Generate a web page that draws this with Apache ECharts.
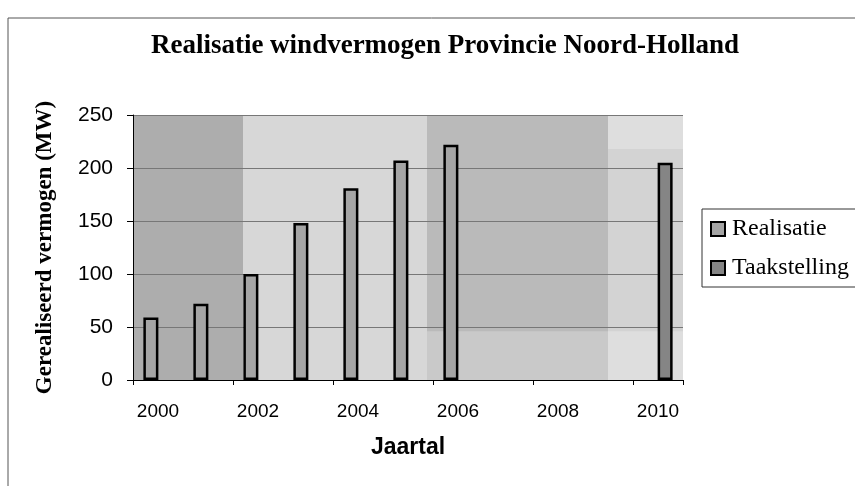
<!DOCTYPE html>
<html>
<head>
<meta charset="utf-8">
<script src="https://cdn.jsdelivr.net/npm/echarts@6/dist/echarts.min.js"></script>
<style>
    html, body { margin: 0; padding: 0; background: #fff; }
    #chart { width: 855px; height: 486px; }
</style>
</head>
<body>
<div id="chart"></div>
<script>
// jaren op de x-as
const years = ['2000', '2001', '2002', '2003', '2004', '2005', '2006', '2007', '2008', '2009', '2010'];
// gerealiseerd vermogen (MW)
const realisatie = [59, 72, 100, 148, 181, 207, 222, null, null, null, null];
// taakstelling 2010
const taakstelling = [null, null, null, null, null, null, null, null, null, null, 205];
const yTicks = [0, 50, 100, 150, 200, 250];

// achtergrondvlakken (x op een verborgen 0..11 as, y in MW)
const bands = [
    [0, 2.2, 0, 250, '#adadad'],
    [2.2, 5.88, 0, 250, '#d7d7d7'],
    [5.88, 9.5, 0, 250, '#bababa'],
    [5.88, 9.5, 0, 46, '#c9c9c9'],
    [9.5, 11, 0, 250, '#dedede'],
    [9.5, 11, 46, 218, '#d3d3d3']
];

const chart = echarts.init(document.getElementById('chart'));

const option = {
    backgroundColor: '#fff',
    animation: false,
    title: {
        text: 'Realisatie windvermogen Provincie Noord-Holland',
        left: 440,
        top: 28,
        textAlign: 'center',
        textStyle: {
            fontFamily: 'Liberation Serif',
            fontWeight: 'bold',
            fontSize: 27,
            color: '#000'
        }
    },
    legend: {
        orient: 'vertical',
        left: 702,
        top: 209,
        padding: [8, 12, 7, 8],
        itemGap: 15,
        itemWidth: 14,
        itemHeight: 14,
        borderColor: '#333',
        borderWidth: 1,
        borderRadius: 0,
        icon: 'rect',
        data: ['Realisatie', 'Taakstelling'],
        textStyle: {
            fontFamily: 'Liberation Serif',
            fontSize: 24,
            color: '#000',
            padding: [0, 0, 0, 2]
        }
    },
    grid: {
        left: 133,
        right: 172,
        top: 115,
        bottom: 106,
        containLabel: false
    },
    xAxis: [
        {
            type: 'category',
            data: years,
            name: 'Jaartal',
            nameLocation: 'middle',
            nameGap: 56,
            nameTextStyle: {
                fontFamily: 'Liberation Sans',
                fontWeight: 'bold',
                fontSize: 23,
                color: '#000'
            },
            axisLine: { lineStyle: { color: '#000', width: 1 } },
            axisTick: { show: true, length: 5, lineStyle: { color: '#000' } },
            axisLabel: {
                interval: 1,
                margin: 22,
                fontFamily: 'Liberation Sans',
                fontSize: 19,
                color: '#000'
            },
            splitLine: { show: false }
        },
        {
            type: 'value',
            min: 0,
            max: 11,
            show: false
        }
    ],
    yAxis: {
        type: 'value',
        min: 0,
        max: 250,
        interval: 50,
        name: 'Gerealiseerd vermogen (MW)',
        nameLocation: 'middle',
        nameGap: 76,
        nameTextStyle: {
            fontFamily: 'Liberation Serif',
            fontWeight: 'bold',
            fontSize: 23,
            color: '#000'
        },
        axisLine: { show: true, lineStyle: { color: '#000', width: 1 } },
        axisTick: { show: true, length: 6, lineStyle: { color: '#000' } },
        axisLabel: {
            margin: 20,
            fontFamily: 'Liberation Sans',
            fontSize: 21,
            color: '#000',
            formatter: v => yTicks.includes(v) ? String(v) : ''
        },
        splitLine: { show: true, lineStyle: { color: '#777', width: 1 } }
    },
    series: [
        {
            name: 'achtergrond',
            type: 'line',
            xAxisIndex: 1,
            data: [],
            z: -1,
            silent: true,
            markArea: {
                silent: true,
                z: -1,
                data: bands.map(b => [
                    { xAxis: b[0], yAxis: b[2], itemStyle: { color: b[4] } },
                    { xAxis: b[1], yAxis: b[3] }
                ])
            }
        },
        {
            name: 'Realisatie',
            type: 'bar',
            data: realisatie,
            barWidth: 15,
            barGap: '-5%',
            itemStyle: {
                color: '#a5a5a5',
                borderColor: '#000',
                borderWidth: 2.5
            }
        },
        {
            name: 'Taakstelling',
            type: 'bar',
            data: taakstelling,
            barWidth: 15,
            itemStyle: {
                color: '#858585',
                borderColor: '#000',
                borderWidth: 2.5
            }
        }
    ],
    graphic: [
        {
            type: 'line',
            shape: { x1: 8, y1: 18, x2: 855, y2: 18 },
            style: { stroke: '#555', lineWidth: 1 }
        },
        {
            type: 'line',
            shape: { x1: 8, y1: 18, x2: 8, y2: 486 },
            style: { stroke: '#555', lineWidth: 1 }
        }
    ]
};

chart.setOption(option);
</script>
</body>
</html>
